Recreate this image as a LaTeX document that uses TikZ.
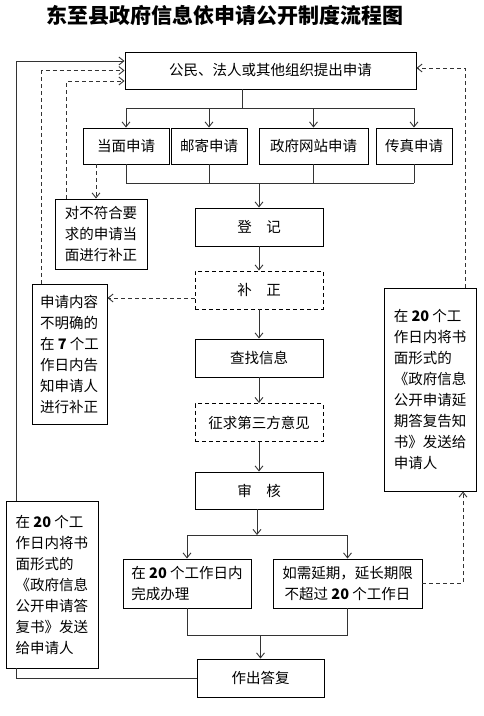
\documentclass[tikz,border=0pt]{standalone}
\usepackage{fontspec}
\setmainfont{Noto Sans CJK SC}
\usetikzlibrary{arrows.meta}

\begin{document}
\begin{tikzpicture}[x=1pt, y=-1pt, line width=0.9pt,
  >={Straight Barb[length=5pt,width=8pt]},
  box/.style={draw=black, minimum height=38pt, inner sep=0pt, align=center, font=\fontsize{14.5}{21}\selectfont},
  dbox/.style={box, dash pattern=on 4pt off 3pt},
  link/.style={draw=black!80},
  dlink/.style={link, dash pattern=on 4pt off 3pt}]
  \useasboundingbox (0,0) rectangle (483,716);
  % title
  \node[font=\fontsize{21}{25}\selectfont\bfseries] (title) at (225,15) {东至县政府信息依申请公开制度流程图};
  % main column
  \node[box, minimum width=291pt, minimum height=37pt] (apply) at (270.5,70.5) {公民、法人或其他组织提出申请};
  \node[box, minimum width=86pt, minimum height=36pt] (face) at (126,146) {当面申请};
  \node[box, minimum width=76pt, minimum height=36pt] (mail) at (209,146) {邮寄申请};
  \node[box, minimum width=109pt, minimum height=36pt] (web) at (313.5,146) {政府网站申请};
  \node[box, minimum width=76pt, minimum height=36pt] (fax) at (414,146) {传真申请};
  \node[box, minimum width=128pt] (reg) at (259,227) {登\hspace{1em}记};
  \node[dbox, minimum width=128pt] (fix) at (259,290) {补\hspace{1em}正};
  \node[box, minimum width=128pt] (find) at (259,358) {查找信息};
  \node[dbox, minimum width=128pt] (third) at (259,422.5) {征求第三方意见};
  \node[box, minimum width=128pt, minimum height=37pt] (audit) at (259,490.5) {审\hspace{1em}核};
  \node[box, minimum width=128pt, minimum height=49pt, align=left] (done) at (187,583.5) {在 {\bfseries 20} 个工作日内\\完成办理};
  \node[box, minimum width=149pt, minimum height=49pt] (extend) at (347.5,583.5) {如需延期，延长期限\\不超过 {\bfseries 20} 个工作日};
  \node[box, minimum width=127pt] (reply) at (260.5,678) {作出答复};
  % side boxes
  \node[box, minimum width=92pt, minimum height=70pt, align=left] (supp1) at (101,234) {对不符合要\\求的申请当\\面进行补正};
  \node[box, minimum width=75pt, minimum height=140pt, align=left] (supp2) at (69.5,354) {申请内容\\不明确的\\在 {\bfseries 7} 个工\\作日内告\\知申请人\\进行补正};
  \node[box, minimum width=92pt, minimum height=203pt, align=left] (notice) at (430,389.5) {在 {\bfseries 20} 个工\\作日内将书\\面形式的\\《政府信息\\公开申请延\\期答复告知\\书》发送给\\申请人};
  \node[box, minimum width=92pt, minimum height=167pt, align=left] (answer) at (52,584.5) {在 {\bfseries 20} 个工\\作日内将书\\面形式的\\《政府信息\\公开申请答\\复书》发送\\给申请人};
  % branch points
  \coordinate (split1) at (242,108);
  \coordinate (join1) at (259,183);
  \coordinate (split2) at (257,535);
  \coordinate (join2) at (259,635);
  % ways of applying
  \draw[link] (apply.south -| split1) -- (split1);
  \draw[link] (face.north |- split1) -- (fax.north |- split1);
  \foreach \n in {face,mail,web,fax} {
    \draw[link,->] (\n.north |- split1) -- (\n.north);
    \draw[link] (\n.south) -- (\n.south |- join1);
  }
  \draw[link] (face.south |- join1) -- (fax.south |- join1);
  \draw[link,->] (join1) -- (reg.north);
  % main flow
  \draw[link,->] (reg) -- (fix);
  \draw[link,->] (fix) -- (find);
  \draw[link,->] (find) -- (third);
  \draw[link,->] (third) -- (audit);
  \draw[link,->] (audit.south -| split2) -- (split2);
  \draw[link] (done.north |- split2) -- (extend.north |- split2);
  \draw[link,->] (done.north |- split2) -- (done.north);
  \draw[link,->] (extend.north |- split2) -- (extend.north);
  \draw[link] (done.south) -- (done.south |- join2) -- (extend.south |- join2) -- (extend.south);
  \draw[link,->] (reply.north |- join2) -- (reply.north);
  % feedback loops
  \draw[dlink,->] ([xshift=-30pt]face.south) -- ([xshift=-30pt]face.south |- supp1.north);
  \draw[dlink,->] ([xshift=12pt]supp1.north west) |- ([yshift=-10.5pt]apply.west);
  \draw[dlink,->] ([xshift=10pt]supp2.north west) |- (apply.west);
  \draw[dlink,->] ([yshift=-8pt]fix.west) -- ([yshift=-8pt]fix.west -| supp2.east);
  \draw[link] (reply.west) -| ([xshift=11pt]answer.south west);
  \draw[link,->] ([xshift=11pt]answer.north west) |- ([yshift=9.5pt]apply.west);
  \draw[dlink,->] (extend.east) -| ([xshift=33pt]notice.south);
  \draw[dlink,->] ([xshift=35pt]notice.north) |- ([yshift=2.5pt]apply.east);
\end{tikzpicture}
\end{document}
